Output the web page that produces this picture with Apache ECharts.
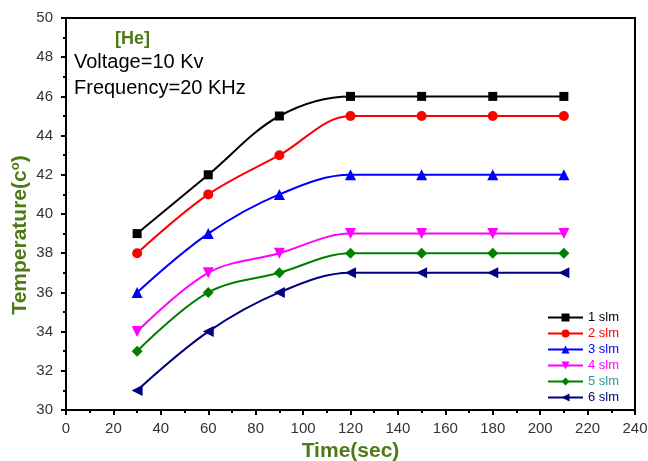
<!DOCTYPE html>
<html>
<head>
<meta charset="utf-8">
<script src="https://cdn.jsdelivr.net/npm/echarts@6/dist/echarts.min.js"></script>
<style>html,body{margin:0;padding:0;background:#fff}#c{width:648px;height:461px}</style>
</head>
<body>
<div id="c"></div>
<script>
const times = [30, 60, 90, 120, 150, 180, 210];
const seriesNames = ['1 slm', '2 slm', '3 slm', '4 slm', '5 slm', '6 slm'];
const slm1 = [39, 42, 45, 46, 46, 46, 46];
const slm2 = [38, 41, 43, 45, 45, 45, 45];
const slm3 = [36, 39, 41, 42, 42, 42, 42];
const slm4 = [34, 37, 38, 39, 39, 39, 39];
const slm5 = [33, 36, 37, 38, 38, 38, 38];
const slm6 = [31, 34, 36, 37, 37, 37, 37];
const xTicks = [0, 20, 40, 60, 80, 100, 120, 140, 160, 180, 200, 220, 240];
const yTicks = [30, 32, 34, 36, 38, 40, 42, 44, 46, 48, 50];

const allValues = [slm1, slm2, slm3, slm4, slm5, slm6];
const colors = ['#000000', '#ff0000', '#0000ff', '#ff00ff', '#008000', '#000080'];
const textColors = ['#000000', '#ff0000', '#0000ff', '#ff00ff', '#2a9a9a', '#000080'];
const symbols = ['rect', 'circle', 'triangle', 'triangle', 'diamond', 'triangle'];
const rotates = [0, 0, 0, 180, 0, 90];
const sizes = [9, 10, 11, 11, 11, 11];
const green = '#4e7a16';
const FONT = 'Liberation Sans, Arial, sans-serif';

const chart = echarts.init(document.getElementById('c'), null, {renderer: 'canvas'});
const series = seriesNames.map((n, i) => ({
  name: n,
  type: 'line',
  smooth: 0.35,
  data: times.map((t, j) => [t, allValues[i][j]]),
  symbol: symbols[i],
  symbolRotate: rotates[i],
  symbolSize: sizes[i],
  showAllSymbol: true,
  lineStyle: {color: colors[i], width: 2},
  itemStyle: {color: colors[i]},
  z: 10 - i
}));

chart.setOption({
  animation: false,
  backgroundColor: '#fff',
  grid: {left: 66, right: 13, top: 18, bottom: 51, show: true, borderColor: '#000', borderWidth: 2,
         containLabel: false, outerBoundsMode: 'none'},
  legend: {
    orient: 'vertical',
    left: 542,
    top: 306,
    itemWidth: 35,
    itemHeight: 10,
    itemGap: 3,
    textStyle: {fontFamily: FONT, fontSize: 13},
    data: seriesNames.map((n, i) => ({name: n, textStyle: {color: textColors[i]}}))
  },
  xAxis: {
    type: 'value', min: 0, max: 240, interval: 20,
    name: 'Time(sec)', nameLocation: 'middle', nameGap: 29,
    nameTextStyle: {color: green, fontSize: 21, fontWeight: 'bold', fontFamily: FONT},
    axisLine: {show: true, onZero: false, lineStyle: {color: '#000', width: 2}},
    axisTick: {show: true, inside: false, length: 5, lineStyle: {color: '#000', width: 2}},
    minorTick: {show: true, splitNumber: 2, length: 3, lineStyle: {color: '#000', width: 2}},
    axisLabel: {color: '#333', fontSize: 15, fontFamily: FONT, margin: 11,
      formatter: v => xTicks.includes(v) ? String(v) : ''},
    splitLine: {show: false}
  },
  yAxis: {
    type: 'value', min: 30, max: 50, interval: 2,
    axisLine: {show: true, onZero: false, lineStyle: {color: '#000', width: 2}},
    axisTick: {show: true, inside: false, length: 5, lineStyle: {color: '#000', width: 2}},
    minorTick: {show: true, splitNumber: 2, length: 3, lineStyle: {color: '#000', width: 2}},
    axisLabel: {color: '#333', fontSize: 15, fontFamily: FONT, margin: 13,
      formatter: v => yTicks.includes(v) ? String(v) : ''},
    splitLine: {show: false}
  },
  graphic: [
    {type: 'text', x: 20, y: 235, rotation: Math.PI / 2,
      style: {text: 'Temperature(c{sup|o})', fill: green, font: 'bold 21px ' + FONT, align: 'center', verticalAlign: 'middle',
        rich: {sup: {fontSize: 13, fontWeight: 'bold', fill: green, fontFamily: FONT, verticalAlign: 'top', padding: [0, 0, 9, 0]}}}},
    {type: 'text', left: 115, top: 30, style: {text: '[He]', fill: green, font: 'bold 18px ' + FONT}},
    {type: 'text', left: 74, top: 52, style: {text: 'Voltage=10 Kv', fill: '#000', font: '20px ' + FONT}},
    {type: 'text', left: 74, top: 78, style: {text: 'Frequency=20 KHz', fill: '#000', font: '20px ' + FONT}}
  ],
  series: series
});
</script>
</body>
</html>
